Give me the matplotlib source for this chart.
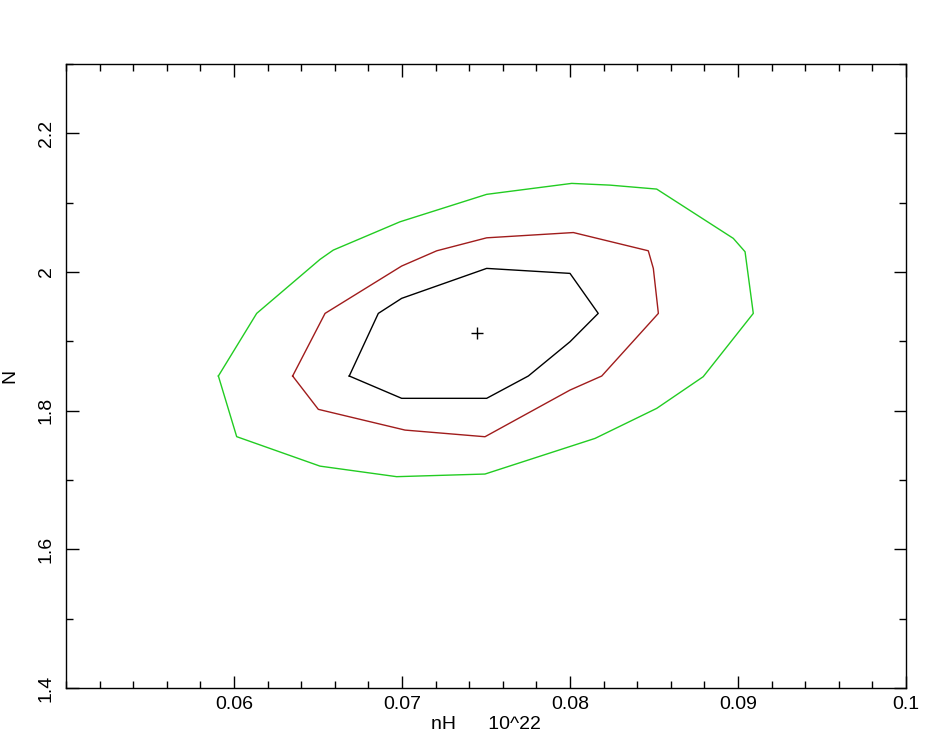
import matplotlib
matplotlib.use("Agg")
import matplotlib.pyplot as plt
from matplotlib.ticker import MultipleLocator

# contour levels (nH in 10^22, photon index N)
green_x = [0.05907, 0.06016, 0.06512, 0.06968, 0.07494, 0.08149, 0.08516, 0.08793,
           0.09091, 0.09042, 0.08972, 0.08516, 0.08238, 0.08010, 0.07504, 0.06988,
           0.06591, 0.06512, 0.06135, 0.05907]
green_y = [1.850, 1.7625, 1.720, 1.7048, 1.7086, 1.760, 1.8033, 1.849,
           1.9403, 2.0292, 2.0485, 2.1196, 2.1253, 2.1278, 2.112, 2.0724,
           2.0316, 2.0182, 1.9403, 1.850]

red_x = [0.06349, 0.06502, 0.07018, 0.07494, 0.08000, 0.08189, 0.08526, 0.08496,
         0.08466, 0.08020, 0.07504, 0.07207, 0.06998, 0.06542, 0.06349]
red_y = [1.850, 1.8019, 1.772, 1.7624, 1.8297, 1.850, 1.9403, 2.0052,
         2.0306, 2.0569, 2.0493, 2.0306, 2.0086, 1.9403, 1.850]

black_x = [0.06686, 0.06998, 0.07504, 0.07752, 0.08000, 0.08168, 0.08000, 0.07504,
           0.06998, 0.06859, 0.06686]
black_y = [1.850, 1.8178, 1.8178, 1.850, 1.8994, 1.9403, 1.998, 2.0052,
           1.962, 1.9403, 1.850]

best_x = [0.07446]
best_y = [1.912]

plt.rcParams['font.family'] = ['Liberation Sans', 'DejaVu Sans']

fig = plt.figure(figsize=(9.35, 7.39), dpi=100)
ax = fig.add_axes([66/935, 51/739, 840/935, 624/739])

ax.plot(green_x, green_y, color='#22cc22', lw=1.0)
ax.plot(red_x, red_y, color='#a01c1c', lw=1.0)
ax.plot(black_x, black_y, color='black', lw=1.0)
ax.plot(best_x, best_y, marker='+', color='black', ms=8, mew=1.0, ls='none')

ax.set_xlim(0.05, 0.1)
ax.set_ylim(1.4, 2.3)
ax.xaxis.set_minor_locator(MultipleLocator(0.002))
ax.yaxis.set_minor_locator(MultipleLocator(0.1))
ax.set_xticks([0.06, 0.07, 0.08, 0.09, 0.1])
ax.set_xticklabels(['0.06', '0.07', '0.08', '0.09', '0.1'])
ax.set_yticks([1.4, 1.6, 1.8, 2.0, 2.2])
ax.set_yticklabels(['1.4', '1.6', '1.8', '2', '2.2'])

ax.tick_params(which='both', direction='in', top=True, right=True, width=1.0,
               labelsize=14, colors='black')
ax.tick_params(which='major', length=9)
ax.tick_params(which='minor', length=5)
ax.tick_params(axis='x', pad=6)
ax.tick_params(axis='y', pad=8)
for lab in ax.get_yticklabels():
    lab.set_rotation(90)
    lab.set_va('center')

for sp in ax.spines.values():
    sp.set_linewidth(1.0)

ax.set_xlabel('nH      10^22', fontsize=14, labelpad=2)
ax.set_ylabel('N', fontsize=14, labelpad=14)

fig.savefig('out.png', dpi=100)
